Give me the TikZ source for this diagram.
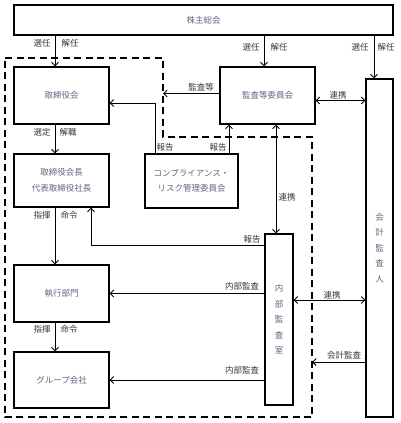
\documentclass[tikz,border=0pt]{standalone}
\usepackage{fontspec}
\setmainfont{Noto Sans CJK JP}
\usetikzlibrary{arrows.meta}
\definecolor{boxtext}{RGB}{105,95,125}
\definecolor{labtext}{RGB}{55,55,55}
\begin{document}
\begin{tikzpicture}[x=1pt,y=-1pt,
  box/.style={draw, line width=1.2pt, inner sep=0pt, text=boxtext, font=\fontsize{8.5}{15.5}\selectfont, align=center},
  lab/.style={text=labtext, font=\fontsize{8.5}{10}\selectfont, inner sep=0pt},
  arr/.style={line width=0.9pt, -{Straight Barb[length=3.5pt,width=7pt]}},
  darr/.style={line width=0.9pt, {Straight Barb[length=3.5pt,width=7pt]}-{Straight Barb[length=3.5pt,width=7pt]}},
  dashbox/.style={line width=1.3pt, dash pattern=on 7pt off 4.5pt}
]
\useasboundingbox (0,0) rectangle (400,423);
% boxes
\node[box, minimum width=379pt, minimum height=30pt] (sh) at (203.5,20) {株主総会};
\node[box, minimum width=95pt, minimum height=57pt] (board) at (61.5,95.5) {取締役会};
\node[box, minimum width=95pt, minimum height=57pt] (aud) at (267.5,95.5) {監査等委員会};
\node[box, minimum width=27pt, minimum height=338pt] (acct) at (379.5,248) {会\\計\\監\\査\\人};
\node[box, minimum width=93pt, minimum height=54pt] (comp) at (191.5,181) {コンプライアンス・\\リスク管理委員会};
\node[box, minimum width=95pt, minimum height=53pt] (ceo) at (61.5,180.5) {取締役会長\\代表取締役社長};
\node[box, minimum width=28pt, minimum height=171pt] (ia) at (279,319.5) {内\\部\\監\\査\\室};
\node[box, minimum width=95pt, minimum height=57pt] (exec) at (61.5,293.5) {執行部門};
\node[box, minimum width=95pt, minimum height=56pt] (grp) at (61.5,380) {グループ会社};
% dashed region
\coordinate (d1) at (5,58);
\coordinate (d2) at (163,58);
\coordinate (d3) at (163,137);
\coordinate (d4) at (312,137);
\coordinate (d5) at (312,417);
\coordinate (d6) at (5,417);
\draw[dashbox] (d1) -- (d2) -- (d3) -- (d4) -- (d5) -- (d6) -- cycle;
% helper coordinates
\coordinate (cx1) at (55,0);
\coordinate (cx2) at (264,0);
\coordinate (cx3) at (374,0);
\coordinate (cx4) at (155,0);
\coordinate (cx5) at (229,0);
\coordinate (cx6) at (276,0);
\coordinate (cx7) at (91,0);
\coordinate (ya) at (0,100.5);
\coordinate (yb) at (0,103);
\coordinate (yc) at (0,245);
\coordinate (yd) at (0,300);
\coordinate (ye) at (0,362);
\coordinate (yf) at (0,93.5);
% arrows
\draw[arr] (sh.south -| cx1) -- (board.north -| cx1);
\draw[arr] (sh.south -| cx2) -- (aud.north -| cx2);
\draw[arr] (sh.south -| cx3) -- (acct.north -| cx3);
\draw[arr] (aud.west |- yf) -- (d2 |- yf);
\draw[darr] (aud.east |- ya) -- (acct.west |- ya);
\draw[arr] (comp.north -| cx4) -- (cx4 |- yb) -- (board.east |- yb);
\draw[arr] (comp.north -| cx5) -- (aud.south -| cx5);
\draw[darr] (aud.south -| cx6) -- (ia.north -| cx6);
\draw[arr] (board.south -| cx1) -- (ceo.north -| cx1);
\draw[arr] (ceo.south -| cx1) -- (exec.north -| cx1);
\draw[arr] (exec.south -| cx1) -- (grp.north -| cx1);
\draw[arr] (ia.west |- yc) -- (cx7 |- yc) -- (ceo.south -| cx7);
\draw[arr] (ia.west |- exec.east) -- (exec.east);
\draw[arr] (ia.west |- grp.east) -- (grp.east);
\draw[darr] (ia.east |- yd) -- (acct.west |- yd);
\draw[arr] (acct.west |- ye) -- (d5 |- ye);
% labels
\node[lab] (l1) at (42,43) {選任};
\node[lab] (l2) at (70,43) {解任};
\node[lab] (l3) at (251,47) {選任};
\node[lab] (l4) at (279,47) {解任};
\node[lab] (l5) at (360,47) {選任};
\node[lab] (l6) at (386,47) {解任};
\node[lab] (l7) at (201,87) {監査等};
\node[lab] (l8) at (338,95) {連携};
\node[lab] (l9) at (42,132) {選定};
\node[lab] (l10) at (68,132) {解職};
\node[lab] (l11) at (165,147) {報告};
\node[lab] (l12) at (218,147) {報告};
\node[lab] (l13) at (287,197) {連携};
\node[lab] (l14) at (42,215) {指揮};
\node[lab] (l15) at (69,215) {命令};
\node[lab] (l16) at (252,239) {報告};
\node[lab] (l17) at (242,286) {内部監査};
\node[lab] (l18) at (332,295) {連携};
\node[lab] (l19) at (42,329) {指揮};
\node[lab] (l20) at (69,329) {命令};
\node[lab] (l21) at (344,355) {会計監査};
\node[lab] (l22) at (242,370) {内部監査};
\end{tikzpicture}
\end{document}
